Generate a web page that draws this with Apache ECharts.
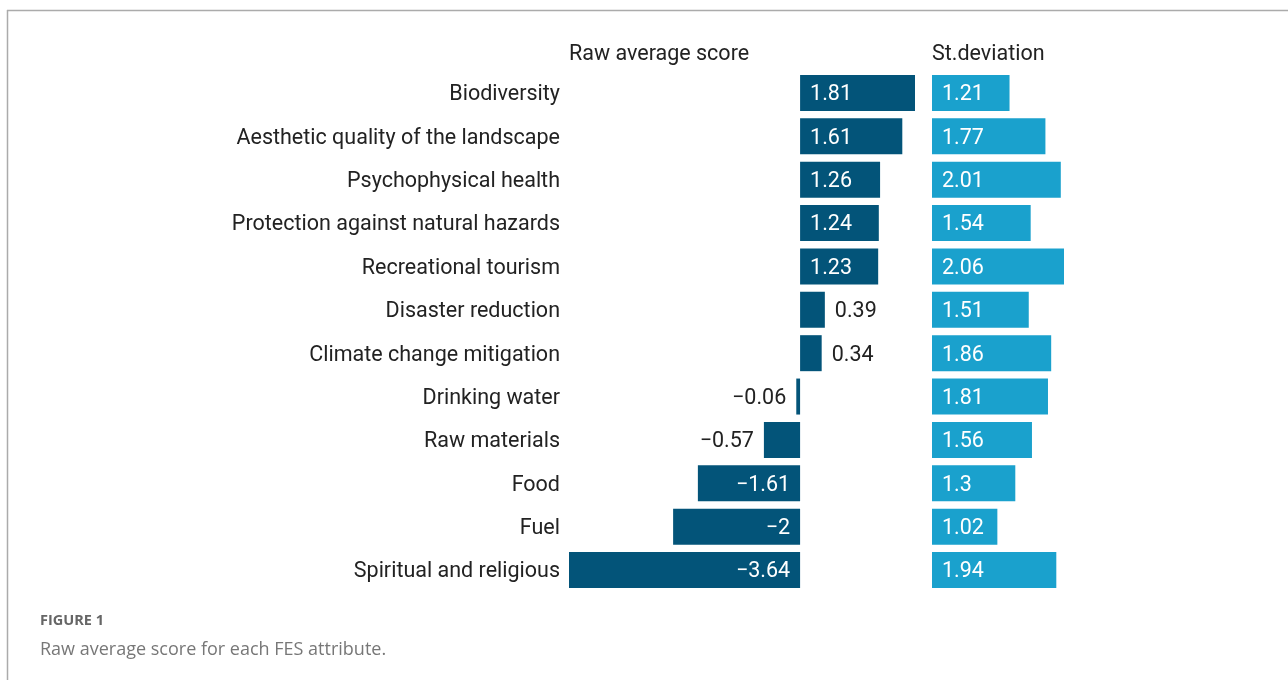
<!DOCTYPE html>
<html>
<head>
<meta charset="utf-8">
<script src="https://cdn.jsdelivr.net/npm/echarts@6/dist/echarts.min.js"></script>
<style>
html,body{margin:0;padding:0;background:#fff;}
#chart{width:1288px;height:680px;}
</style>
</head>
<body>
<div id="chart"></div>
<script>
const categories = [
  'Biodiversity',
  'Aesthetic quality of the landscape',
  'Psychophysical health',
  'Protection against natural hazards',
  'Recreational tourism',
  'Disaster reduction',
  'Climate change mitigation',
  'Drinking water',
  'Raw materials',
  'Food',
  'Fuel',
  'Spiritual and religious'
];
const rawAverage = [1.81, 1.61, 1.26, 1.24, 1.23, 0.39, 0.34, -0.06, -0.57, -1.61, -2, -3.64];
const stDeviation = [1.21, 1.77, 2.01, 1.54, 2.06, 1.51, 1.86, 1.81, 1.56, 1.3, 1.02, 1.94];
const panelTitles = ['Raw average score', 'St.deviation'];
const captionHead = 'FIGURE 1';
const captionText = 'Raw average score for each FES attribute.';

const DARK = '#035479';
const LIGHT = '#1aa1cd';
const FONT = 'Roboto';
const FS = 21.5;
const fmt = v => String(v).replace('-', '\u2212');

const rawData = rawAverage.map(v => {
  let pos, color;
  if (Math.abs(v) < 0.6) {
    pos = v >= 0 ? 'right' : 'left';
    color = '#222';
  } else {
    pos = v >= 0 ? 'insideLeft' : 'insideRight';
    color = '#fff';
  }
  return { value: v, label: { position: pos, color: color } };
});

const gridTop = 71.3, gridBottom = 680 - 591.7;

const chart = echarts.init(document.getElementById('chart'), null, { renderer: 'canvas' });
chart.setOption({
  animation: false,
  backgroundColor: '#fff',
  grid: [
    { left: 569, width: 346, top: gridTop, bottom: gridBottom, containLabel: false },
    { left: 932, width: 132, top: gridTop, bottom: gridBottom, containLabel: false }
  ],
  xAxis: [
    { type: 'value', gridIndex: 0, min: -3.64, max: 1.81, show: false },
    { type: 'value', gridIndex: 1, min: 0, max: 2.06, show: false }
  ],
  yAxis: [
    {
      type: 'category', gridIndex: 0, data: categories, inverse: true,
      axisLine: { show: false }, axisTick: { show: false }, splitLine: { show: false },
      axisLabel: {
        margin: 9, color: '#222', fontSize: FS, fontFamily: FONT,
        formatter: v => '{a|' + v + '}',
        rich: { a: { fontSize: FS, fontFamily: FONT, color: '#222', padding: [4, 0, 0, 0] } }
      }
    },
    {
      type: 'category', gridIndex: 1, data: categories, inverse: true,
      show: false
    }
  ],
  series: [
    {
      type: 'bar', xAxisIndex: 0, yAxisIndex: 0, data: rawData,
      barCategoryGap: '17%',
      itemStyle: { color: DARK },
      label: { show: true, fontSize: FS, fontFamily: FONT, distance: 10, offset: [0, 2], formatter: p => fmt(p.value) }
    },
    {
      type: 'bar', xAxisIndex: 1, yAxisIndex: 1, data: stDeviation,
      barCategoryGap: '17%',
      itemStyle: { color: LIGHT },
      label: { show: true, position: 'insideLeft', distance: 10, offset: [0, 2], color: '#fff', fontSize: FS, fontFamily: FONT, formatter: p => fmt(p.value) }
    }
  ],
  graphic: [
    { type: 'line', shape: { x1: 7, y1: 10.5, x2: 1288, y2: 10.5 }, style: { stroke: '#ababab', lineWidth: 1.5 } },
    { type: 'line', shape: { x1: 7.5, y1: 10, x2: 7.5, y2: 680 }, style: { stroke: '#ababab', lineWidth: 1.5 } },
    { type: 'text', left: 569, top: 44, style: { text: panelTitles[0], fill: '#222', font: FS + 'px Roboto' } },
    { type: 'text', left: 932, top: 44, style: { text: panelTitles[1], fill: '#222', font: FS + 'px Roboto' } },
    { type: 'text', left: 40, top: 613, style: { text: captionHead, fill: '#666', font: 'bold 14.5px "Open Sans"' } },
    { type: 'text', left: 40, top: 641, style: { text: captionText, fill: '#777', font: '18px "Open Sans"' } }
  ]
});
</script>
</body>
</html>
